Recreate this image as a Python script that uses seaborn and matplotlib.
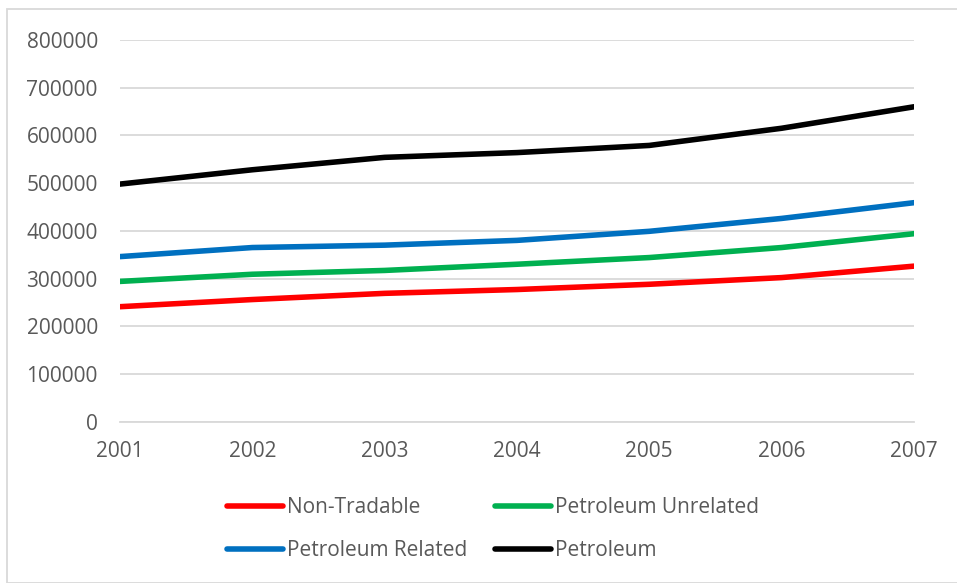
import pandas as pd
import matplotlib.pyplot as plt
import seaborn as sns
from matplotlib.patches import Rectangle

# values
years = [2001, 2002, 2003, 2004, 2005, 2006, 2007]
non_tradable = [241000, 256000, 269000, 277000, 288000, 302000, 326000]
petroleum_unrelated = [294000, 309000, 317000, 330000, 344000, 365000, 394000]
petroleum_related = [346000, 365000, 370000, 380000, 399000, 426000, 459000]
petroleum = [498000, 528000, 554000, 564000, 579000, 615000, 660000]

series = {
    'Non-Tradable': non_tradable,
    'Petroleum Unrelated': petroleum_unrelated,
    'Petroleum Related': petroleum_related,
    'Petroleum': petroleum,
}
colors = {
    'Non-Tradable': '#FF0000',
    'Petroleum Unrelated': '#00B050',
    'Petroleum Related': '#0070C0',
    'Petroleum': '#000000',
}

df = pd.DataFrame([(y, name, v) for name, vals in series.items() for y, v in zip(years, vals)],
                  columns=['Year', 'Series', 'Value'])

sns.set_style('white')
plt.rcParams['font.family'] = ['Open Sans', 'DejaVu Sans']
text_color = '#595959'

fig = plt.figure(figsize=(9.57, 5.83), dpi=100)
ax = fig.add_axes([0.1254, 0.2767, 0.955 - 0.1254, 0.9314 - 0.2767])

sns.lineplot(data=df, x='Year', y='Value', hue='Series', palette=colors,
             linewidth=4, solid_capstyle='round', ax=ax, legend=False)

ax.set_xlim(2001, 2007)
ax.set_ylim(0, 800000)
ax.set_xticks(years)
ax.set_yticks(range(0, 800001, 100000))
ax.grid(axis='y', color='#D9D9D9', linewidth=1.3)
ax.set_axisbelow(True)
for s in ['top', 'right', 'left']:
    ax.spines[s].set_visible(False)
ax.spines['bottom'].set_color('#D9D9D9')
ax.spines['bottom'].set_linewidth(1.3)
ax.set_xlabel('')
ax.set_ylabel('')
ax.tick_params(axis='y', length=0, pad=16, labelsize=15, labelcolor=text_color)
ax.tick_params(axis='x', length=0, pad=14, labelsize=15, labelcolor=text_color)

# legend, row-wise order like the original
order = ['Non-Tradable', 'Petroleum Related', 'Petroleum Unrelated', 'Petroleum']
handles = [plt.Line2D([], [], color=colors[n], linewidth=4, solid_capstyle='round') for n in order]
leg = fig.legend(handles, order, ncol=2, loc='center', bbox_to_anchor=(0.515, 0.092),
                 frameon=False, fontsize=15, handlelength=2.7, handletextpad=0.2,
                 columnspacing=1.3, labelspacing=1.05)
for t in leg.get_texts():
    t.set_color(text_color)

# outer chart border
fig.patches.append(Rectangle((7 / 957, 0), 1.0, 1 - 9 / 583, transform=fig.transFigure,
                             fill=False, edgecolor='#D9D9D9', linewidth=1.3))

fig.savefig('out.png', dpi=100)
